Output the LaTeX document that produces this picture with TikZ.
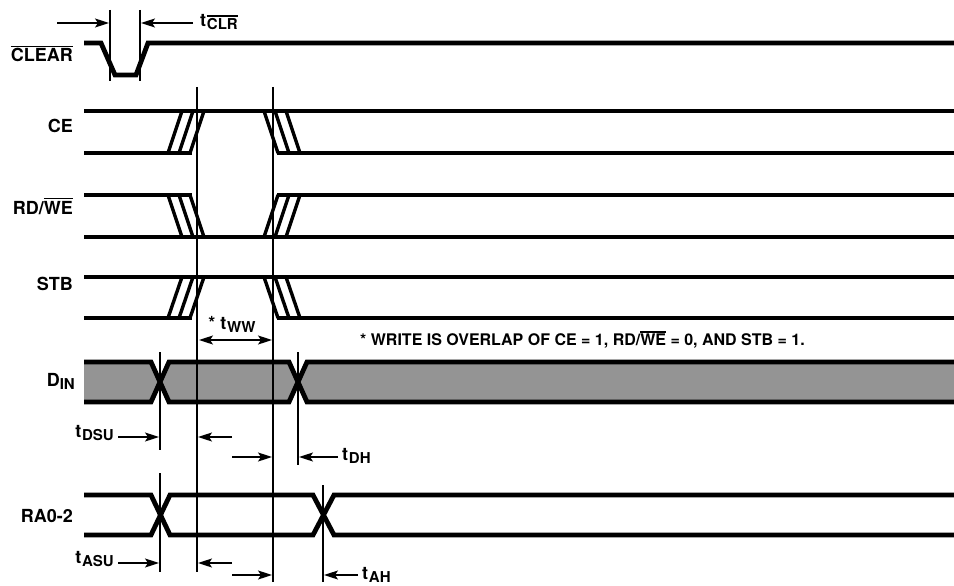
\documentclass[tikz,border=0pt]{standalone}
\usepackage{fontspec}
\setmainfont{TeX Gyre Heros}
\usetikzlibrary{arrows.meta}
\newcommand{\ovl}[1]{\leavevmode\vbox{\hrule height 1.3pt\kern 1.7pt\hbox{#1}}}
\newcommand{\tsub}[1]{t\kern0.8pt\raisebox{-3pt}{\fontsize{15}{16}\selectfont #1}}
\tikzset{
    wave/.style={line width=4.8pt, line join=miter},
    slope/.style={line width=3.4pt},
    marker/.style={line width=1.3pt},
    dim/.style={line width=1.5pt, -{Stealth[length=14pt, width=9pt, inset=3pt]}},
    dimboth/.style={line width=1.5pt, {Stealth[length=14pt, width=9pt, inset=3pt]}-{Stealth[length=14pt, width=9pt, inset=3pt]}},
    lbl/.style={inner sep=0pt, font=\fontsize{18}{20}\selectfont\bfseries},
    notelbl/.style={inner sep=0pt, font=\fontsize{16}{18}\selectfont\bfseries},
    hatch/.style={fill=black!42}
}
\begin{document}
\begin{tikzpicture}[x=1pt, y=-1pt]
    \useasboundingbox (0,0) rectangle (954,586);

    % marker positions
    \coordinate (k1) at (110,10);
    \coordinate (k2) at (140,10);
    \coordinate (w1) at (197,87);
    \coordinate (w2) at (273,87);
    \coordinate (x1) at (160,352);
    \coordinate (x1b) at (160,473);
    \coordinate (x2) at (298,352);
    \coordinate (x3) at (323,485);

    % signal names
    \node (lclr) [lbl, anchor=base east] at (73,62) {\ovl{CLEAR}};
    \node (lce) [lbl, anchor=base east] at (73,132) {CE};
    \node (lrd) [lbl, anchor=base east] at (73,214) {RD/\ovl{WE}};
    \node (lstb) [lbl, anchor=base east] at (73,290) {STB};
    \node (ldin) [lbl, anchor=base east] at (75,386) {D\raisebox{-3pt}{\fontsize{15}{16}\selectfont IN}};
    \node (lra) [lbl, anchor=base east] at (73,522) {RA0-2};

    % CLEAR
    \draw[wave] (84,43) -- (101,43) -- (115,75) -- (136,75) -- (148,43) -- (954,43);

    % CE and STB
    \foreach \hi/\lo in {111/153, 277/318} {
        \draw[wave] (84,\hi) -- (954,\hi);
        \draw[wave] (84,\lo) -- (192,\lo);
        \draw[wave] (277,\lo) -- (954,\lo);
        \foreach \i in {0,1,2} {
            \draw[slope] (168+11*\i,\lo) -- (182+11*\i,\hi);
            \draw[slope] (264+11*\i,\hi) -- (278+11*\i,\lo);
        }
    }

    % RD/WE
    \draw[wave] (84,195) -- (192,195);
    \draw[wave] (277,195) -- (954,195);
    \draw[wave] (84,237) -- (954,237);
    \foreach \i in {0,1,2} {
        \draw[slope] (168+11*\i,195) -- (182+11*\i,237);
        \draw[slope] (264+11*\i,237) -- (278+11*\i,195);
    }

    % DIN
    \fill[hatch] (84,362) -- (151,362) -- (160,382) -- (151,402) -- (84,402) -- cycle;
    \fill[hatch] (169,362) -- (289,362) -- (298,382) -- (289,402) -- (169,402) -- (160,382) -- cycle;
    \fill[hatch] (307,362) -- (954,362) -- (954,402) -- (307,402) -- (298,382) -- cycle;
    \draw[wave] (84,362) -- (151,362) -- (169,402) -- (289,402) -- (307,362) -- (954,362);
    \draw[wave] (84,402) -- (151,402) -- (169,362) -- (289,362) -- (307,402) -- (954,402);

    % RA0-2
    \draw[wave] (84,495) -- (151,495) -- (170,535) -- (313,535) -- (334,495) -- (954,495);
    \draw[wave] (84,535) -- (151,535) -- (170,495) -- (313,495) -- (334,535) -- (954,535);

    % marker lines
    \draw[marker] (k1) -- ++(0,71);
    \draw[marker] (k2) -- ++(0,71);
    \draw[marker] (w1) -- ++(0,485);
    \draw[marker] (w2) -- ++(0,495);
    \draw[marker] (x1) -- ++(0,98);
    \draw[marker] (x1b) -- ++(0,99);
    \draw[marker] (x2) -- ++(0,113);
    \draw[marker] (x3) -- ++(0,97);

    % timing labels
    \node (tclr) [lbl, anchor=west] at (200,22) {\tsub{\ovl{CLR}}};
    \node (tww) [lbl] at (232,324) {* \tsub{WW}};
    \node (note) [notelbl, anchor=west] at (360,340) {* WRITE IS OVERLAP OF CE = 1, RD/\ovl{WE} = 0, AND STB = 1.};
    \node (tdsu) [lbl, anchor=east] at (114,433) {\tsub{DSU}};
    \node (tdh) [lbl, anchor=west] at (342,456) {\tsub{DH}};
    \node (tasu) [lbl, anchor=east] at (114,559) {\tsub{ASU}};
    \node (tah) [lbl, anchor=west] at (362,575) {\tsub{AH}};

    % arrow tails
    \coordinate (a1) at (57,23);
    \coordinate (a2) at (193,23);
    \coordinate (a3) at (118,437);
    \coordinate (a4) at (232,437);
    \coordinate (a5) at (232,457);
    \coordinate (a6) at (338,457);
    \coordinate (a7) at (118,563);
    \coordinate (a8) at (232,563);
    \coordinate (a9) at (232,575);
    \coordinate (a10) at (358,575);
    \coordinate (ww) at (199,340);

    % timing arrows
    \draw[dim] (a1) -- ([xshift=-1pt]a1 -| k1);
    \draw[dim] (a2) -- ([xshift=1pt]a2 -| k2);
    \draw[dimboth] (ww) -- ([xshift=-1pt]ww -| w2);
    \draw[dim] (a3) -- ([xshift=-1pt]a3 -| x1);
    \draw[dim] (a4) -- ([xshift=1pt]a4 -| w1);
    \draw[dim] (a5) -- ([xshift=-1pt]a5 -| w2);
    \draw[dim] (a6) -- ([xshift=1pt]a6 -| x2);
    \draw[dim] (a7) -- ([xshift=-1pt]a7 -| x1);
    \draw[dim] (a8) -- ([xshift=1pt]a8 -| w1);
    \draw[dim] (a9) -- ([xshift=-1pt]a9 -| w2);
    \draw[dim] (a10) -- ([xshift=1pt]a10 -| x3);
\end{tikzpicture}
\end{document}
